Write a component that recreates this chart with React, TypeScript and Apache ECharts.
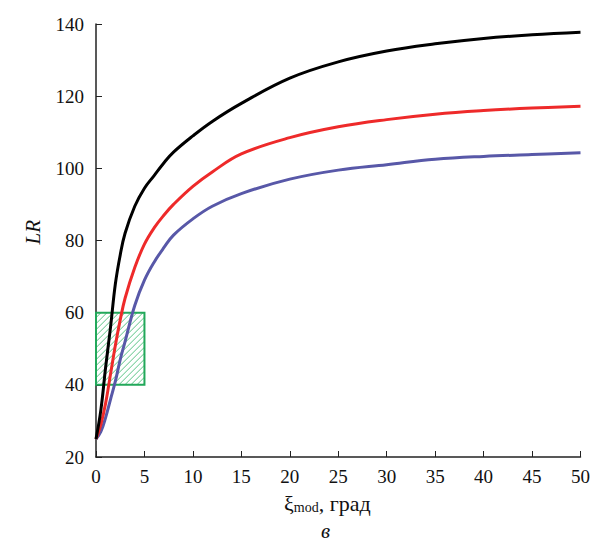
import { useEffect, useRef } from "react";
import * as echarts from "echarts";

const xs = [0, 0.5, 1, 1.5, 2, 2.5, 3, 4, 5, 6, 7, 8, 10, 12, 15, 20, 25, 30, 35, 40, 45, 50];
const black = [25, 33, 45, 56, 68, 76, 82, 89.5, 94.5, 98, 101.5, 104.5, 109, 113, 118, 125, 129.5, 132.5, 134.5, 136, 137, 137.7];
const red = [25, 29, 35, 43, 51, 58, 64, 72.5, 79, 83.5, 87, 90, 95, 99, 104, 108.5, 111.5, 113.5, 115, 116, 116.7, 117.2];
const blue = [25, 27, 31, 36, 41, 47, 52, 62, 69, 74, 78, 81.5, 86, 89.5, 93, 97, 99.5, 101, 102.5, 103.3, 103.8, 104.3];
const boxX = [0, 5];
const boxY = [40, 60];

const font = "'Liberation Serif', 'DejaVu Serif', serif";

export default function App() {
  const ref = useRef<HTMLDivElement>(null);

  useEffect(() => {
    if (!ref.current) return;
    const chart = echarts.init(ref.current, null, { renderer: "svg" });
    const mk = (name: string, ys: number[], color: string) => ({
      name,
      type: "line",
      data: xs.map((x, i) => [x, ys[i]]),
      smooth: 0.4,
      showSymbol: false,
      lineStyle: { color, width: 3 },
      z: 3,
    });
    chart.setOption({
      animation: false,
      backgroundColor: "#fff",
      grid: { left: 88, right: 3, top: 16, bottom: 93 },
      xAxis: {
        type: "value",
        min: 0,
        max: 50,
        interval: 5,
        axisLine: { lineStyle: { color: "#222", width: 1.5 } },
        axisTick: { inside: true, length: 6, lineStyle: { color: "#222" } },
        axisLabel: { color: "#111", fontSize: 19, fontFamily: font, margin: 10 },
        splitLine: { show: false },
      },
      yAxis: {
        type: "value",
        min: 20,
        max: 140,
        interval: 20,
        axisLine: { show: true, lineStyle: { color: "#222", width: 1.5 } },
        axisTick: { show: true, inside: true, length: 6, lineStyle: { color: "#222" } },
        axisLabel: { color: "#111", fontSize: 19, fontFamily: font, margin: 12 },
        splitLine: { show: false },
      },
      graphic: [
        {
          type: "text",
          left: 14,
          top: 212,
          rotation: Math.PI / 2,
          style: { text: "LR", fontSize: 21, fontStyle: "italic", fontFamily: font, fill: "#111" },
        },
        {
          type: "text",
          left: 276,
          top: 484,
          style: {
            text: "{a|ξ}{s|mod}{a|, град}",
            rich: {
              a: { fontSize: 22, fontFamily: font, fill: "#111" },
              s: { fontSize: 14, fontFamily: font, fill: "#111", padding: [9, 0, 0, 0] },
            },
          },
        },
        {
          type: "text",
          left: 313,
          top: 512,
          style: { text: "в", fontSize: 21, fontStyle: "italic", fontFamily: font, fill: "#111" },
        },
      ],
      series: [
        {
          type: "custom",
          data: [[boxX[0], boxY[0], boxX[1], boxY[1]]],
          z: 1,
          renderItem: (params: any, api: any) => {
            const p1 = api.coord([api.value(0), api.value(3)]);
            const p2 = api.coord([api.value(2), api.value(1)]);
            const x1 = p1[0], y1 = p1[1], x2 = p2[0], y2 = p2[1];
            const children: any[] = [];
            for (let k = x1 + y1 + 5; k < x2 + y2; k += 6) {
              const a = Math.max(x1, k - y2);
              const b = Math.min(x2, k - y1);
              if (b <= a) continue;
              children.push({
                type: "line",
                shape: { x1: a, y1: k - a, x2: b, y2: k - b },
                style: { stroke: "#5cc486", lineWidth: 1 },
              });
            }
            children.push({
              type: "rect",
              shape: { x: x1, y: y1, width: x2 - x1, height: y2 - y1 },
              style: { fill: "none", stroke: "#22a85a", lineWidth: 2 },
            });
            return { type: "group", children };
          },
        },
        mk("blue", blue, "#5858a8"),
        mk("red", red, "#ee2a2a"),
        mk("black", black, "#000"),
      ],
    });
    return () => chart.dispose();
  }, []);

  return <div ref={ref} style={{ width: 585, height: 542 }} />;
}
